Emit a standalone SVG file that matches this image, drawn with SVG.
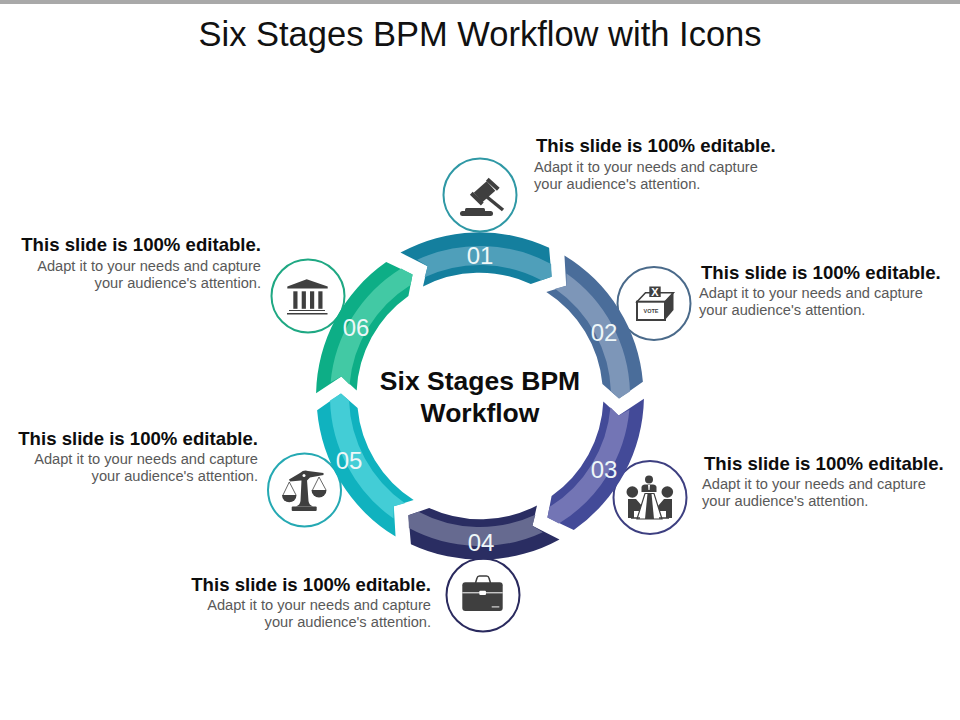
<svg xmlns="http://www.w3.org/2000/svg" width="960" height="720" viewBox="0 0 960 720">
<defs>
<path id="band" d="M400.500 252.600A164 164 0 0 1 549.100 247.800L551.600 276.800L530.800 284A123 123 0 0 0 423 286.500L427.600 266.200Z"/>
<path id="mid" d="M417.100 259.800A150 150 0 0 1 551.100 263.900L551.600 276.800L541.500 280.300A131 131 0 0 0 424.600 277.300L427.600 266.200Z"/>
</defs>
<style>
text{font-family:"Liberation Sans",Arial,sans-serif}
.h{font-size:18.600px;font-weight:700;fill:#0d0d0d}
.b{font-size:14.650px;fill:#595959}
.n{font-size:24px;fill:#eef7f8;text-anchor:middle}
.e{text-anchor:end}
.c{fill:#fff;stroke-width:2}
.i{fill:#3f3f3f}
.l{fill:none;stroke:#3f3f3f}
</style>
<rect width="960" height="720" fill="#fff"/>
<rect width="960" height="4" fill="#a9a9a9"/>
<text id="title" x="480" y="46" font-size="34.500" text-anchor="middle" fill="#111">Six Stages BPM Workflow with Icons</text>
<g id="center"><text x="480" y="390" font-size="26.500" font-weight="700" text-anchor="middle" fill="#0d0d0d">Six Stages BPM</text><text x="480" y="422" font-size="26.500" font-weight="700" text-anchor="middle" fill="#0d0d0d">Workflow</text></g>

<g id="node-01">
<circle class="c" cx="480" cy="195" r="36.500" stroke="#2f98a5"/>
<g>
<path class="l" stroke-width="4" d="M487.300 179.300L498.300 189.300M471.300 193.300L482.300 204"/>
<path class="l" stroke-width="13" d="M491 186L478 197.500"/>
<path class="l" stroke-width="3.500" d="M487 197L503 210"/>
<rect class="i" x="465" y="208" width="20" height="5" rx="1.500"/>
<rect class="i" x="460" y="211" width="33" height="5" rx="2.500"/>
</g>
<use href="#band" fill="#147f9e"/><use href="#mid" fill="#4f9fba"/>
<text class="n" x="480" y="264">01</text>
<text class="h" x="536" y="152">This slide is 100% editable.</text>
<text class="b" x="534" y="172">Adapt it to your needs and capture</text>
<text class="b" x="534" y="189">your audience's attention.</text>
</g>

<g id="node-02">
<circle class="c" cx="654" cy="303.500" r="36.500" stroke="#4a6a8a"/>
<g>
<path d="M637 301.700L645.500 292.700H673.300L665 301.700Z" fill="#fff" stroke="#3f3f3f" stroke-width="1.600"/>
<rect class="i" x="649.300" y="286.500" width="11.400" height="10.500"/>
<text x="655" y="295.800" font-size="11" font-weight="700" fill="#fff" text-anchor="middle">X</text>
<path class="i" d="M665 301.700L673.500 292.700V310L665 320Z"/>
<rect x="637" y="301.700" width="28" height="18.300" fill="#fff" stroke="#3f3f3f" stroke-width="2"/>
<text x="651" y="313" font-size="5.500" font-weight="700" fill="#3f3f3f" text-anchor="middle">VOTE</text>
</g>
<use href="#band" transform="rotate(60 480 396)" fill="#4a6d9a"/><use href="#mid" transform="rotate(60 480 396)" fill="#7d96b8"/>
<text class="n" x="604" y="341">02</text>
<text class="h" x="701" y="279">This slide is 100% editable.</text>
<text class="b" x="699" y="298">Adapt it to your needs and capture</text>
<text class="b" x="699" y="315">your audience's attention.</text>
</g>

<g id="node-03">
<circle class="c" cx="650" cy="497.500" r="36.500" stroke="#3d3f80"/>
<g>
<circle class="i" cx="649" cy="479.500" r="4"/>
<path class="i" d="M641.500 492V487Q642 484.500 645 484.500H653Q656 484.500 656.500 487V492Z"/>
<path d="M648 485H650L649.500 490H648.500Z" fill="#fff"/>
<circle class="i" cx="632.300" cy="492" r="5.800"/>
<circle class="i" cx="667.300" cy="492" r="5.800"/>
<path class="i" d="M628 499H636L642 506V511H634V518H628Z"/>
<path class="i" d="M672 499H664L658 506V511H666V518H672Z"/>
<path d="M645 493.500H654L662 519H637Z" fill="#fff" stroke="#3f3f3f" stroke-width="1.200"/>
<path class="i" d="M647.500 493.500H651.500L654 519H645Z"/>
<path class="l" stroke-width="1.500" d="M631 518H640M659 518H669"/>
</g>
<use href="#band" transform="rotate(120 480 396)" fill="#434a98"/><use href="#mid" transform="rotate(120 480 396)" fill="#7375b5"/>
<text class="n" x="604" y="478">03</text>
<text class="h" x="704" y="470">This slide is 100% editable.</text>
<text class="b" x="702" y="489">Adapt it to your needs and capture</text>
<text class="b" x="702" y="506">your audience's attention.</text>
</g>

<g id="node-04">
<circle class="c" cx="483" cy="595" r="36.500" stroke="#2a2a5e"/>
<g>
<path class="l" stroke-width="1.500" d="M475.500 583L477 578Q477.500 576 479.500 576H486.500Q488.500 576 489 578L490.500 583"/>
<rect class="i" x="462.300" y="582.300" width="40.400" height="28.700" rx="3"/>
<path d="M462.300 592.800H502.700" stroke="#fff" stroke-width="1"/>
<rect x="479.300" y="590.700" width="6.700" height="4.300" rx="1" fill="#fff"/>
<rect x="491.700" y="606" width="7.600" height="1.700" fill="#aaa"/>
</g>
<use href="#band" transform="rotate(180 480 396)" fill="#2a2d62"/><use href="#mid" transform="rotate(180 480 396)" fill="#666a90"/>
<text class="n" x="481" y="551">04</text>
<text class="h e" x="431" y="591">This slide is 100% editable.</text>
<text class="b e" x="431" y="610">Adapt it to your needs and capture</text>
<text class="b e" x="431" y="627">your audience's attention.</text>
</g>

<g id="node-05">
<circle class="c" cx="304.500" cy="490" r="36.500" stroke="#25a9b3"/>
<g>
<path class="i" d="M289 479.500L300 473Q304 469.500 308 471L323.500 473V475L310 477.500L307 480.500H301L290 481.500Z"/>
<circle cx="304" cy="475.500" r="1.500" fill="#fff"/>
<path class="i" d="M301.500 480H307L308.500 501Q309 505 313 506.500H296Q300 505 300.500 501Z"/>
<rect class="i" x="291.700" y="506.500" width="25" height="4.500" rx="1"/>
<path class="l" stroke-width=".8" d="M289.300 482L283 495M289.300 482L296 495M319 477L312.500 490M319 477L326 490"/>
<path class="i" d="M282 495H296.500A7.250 7.250 0 0 1 282 495Z"/>
<path class="i" d="M311.500 490H326.500A7.500 7.500 0 0 1 311.500 490Z"/>
</g>
<use href="#band" transform="rotate(240 480 396)" fill="#10b2bf"/><use href="#mid" transform="rotate(240 480 396)" fill="#43cdd6"/>
<text class="n" x="349" y="469">05</text>
<text class="h e" x="258" y="445">This slide is 100% editable.</text>
<text class="b e" x="258" y="464">Adapt it to your needs and capture</text>
<text class="b e" x="258" y="481">your audience's attention.</text>
</g>

<g id="node-06">
<circle class="c" cx="308" cy="296" r="36.500" stroke="#1fa883"/>
<g>
<path class="i" d="M306.700 279.300L327.700 286.500V288.500H287.300V286.500Z"/>
<rect class="i" x="293.300" y="291.300" width="4.200" height="17.500"/>
<rect class="i" x="301.700" y="291.300" width="4.200" height="17.500"/>
<rect class="i" x="310" y="291.300" width="4.200" height="17.500"/>
<rect class="i" x="318.300" y="291.300" width="4.200" height="17.500"/>
<rect class="i" x="289" y="310" width="36" height="1"/>
<rect class="i" x="287" y="313" width="40.500" height="1.500"/>
</g>
<use href="#band" transform="rotate(300 480 396)" fill="#0dae86"/><use href="#mid" transform="rotate(300 480 396)" fill="#42c9a4"/>
<text class="n" x="356" y="336">06</text>
<text class="h e" x="261" y="251">This slide is 100% editable.</text>
<text class="b e" x="261" y="271">Adapt it to your needs and capture</text>
<text class="b e" x="261" y="288">your audience's attention.</text>
</g>
</svg>
